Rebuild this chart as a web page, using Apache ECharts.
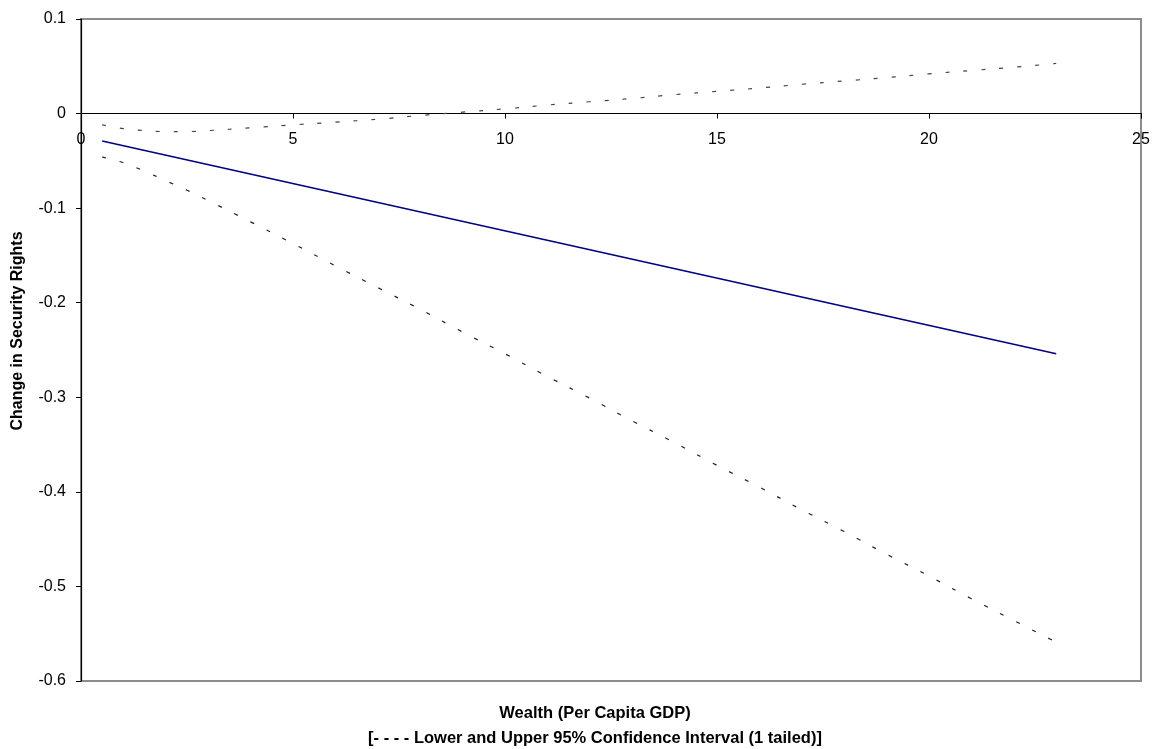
<!DOCTYPE html>
<html>
<head>
<meta charset="utf-8">
<script src="https://cdn.jsdelivr.net/npm/echarts@6/dist/echarts.min.js"></script>
<style>
html,body{margin:0;padding:0;background:#fff;}
#chart{width:1159px;height:749px;}
</style>
</head>
<body>
<div id="chart"></div>
<script>
// Wealth (per capita GDP) values
const estX = [0.5, 23];
const estY = [-0.029, -0.254];

const ciX = [0.5, 1, 1.5, 2, 2.5, 3, 4, 5, 6, 7, 8, 9, 10, 11, 12, 13, 14, 15, 16, 17, 18, 19, 20, 21, 22, 23];
const upperCI = [-0.012, -0.016, -0.018, -0.019, -0.019, -0.018, -0.015, -0.012, -0.009, -0.006, -0.002, 0.0015, 0.005, 0.009, 0.0125, 0.016, 0.020, 0.0235, 0.027, 0.031, 0.0345, 0.038, 0.042, 0.0455, 0.049, 0.053];
const lowerCI = [-0.046, -0.052, -0.061, -0.071, -0.081, -0.092, -0.1145, -0.1375, -0.161, -0.184, -0.207, -0.231, -0.254, -0.278, -0.301, -0.325, -0.348, -0.372, -0.395, -0.419, -0.442, -0.466, -0.489, -0.513, -0.536, -0.559];

const xTitle = 'Wealth (Per Capita GDP)';
const xSubTitle = '[- - - - Lower and Upper 95% Confidence Interval (1 tailed)]';
const yTitle = 'Change in Security Rights';

const zip = (a, b) => a.map((v, i) => [v, b[i]]);
const FONT = '"Liberation Sans", Arial, sans-serif';

const GRID_TOP = 19, GRID_BOTTOM = 68, H = 749;
const Y_MIN = -0.6, Y_MAX = 0.1;
const gridH = H - GRID_TOP - GRID_BOTTOM;
// move the x axis up so it sits on y = 0
const zeroOffset = -gridH * (0 - Y_MIN) / (Y_MAX - Y_MIN);

const chart = echarts.init(document.getElementById('chart'));
chart.setOption({
  animation: false,
  backgroundColor: '#fff',
  grid: {
    left: 81, right: 18, top: GRID_TOP, bottom: GRID_BOTTOM,
    show: true, borderColor: '#8c8c8c', borderWidth: 2, backgroundColor: 'transparent'
  },
  xAxis: {
    type: 'value', min: 0, max: 25, interval: 5,
    position: 'bottom', offset: zeroOffset,
    axisLine: { onZero: false, lineStyle: { color: '#000', width: 1.2 } },
    axisTick: { show: true, length: 5, lineStyle: { color: '#000' } },
    axisLabel: { color: '#000', fontFamily: FONT, fontSize: 16, margin: 18 },
    splitLine: { show: false }
  },
  yAxis: {
    type: 'value', min: Y_MIN, max: Y_MAX, interval: 0.1,
    axisLine: { show: true, onZero: false, lineStyle: { color: '#000', width: 1.2 } },
    axisTick: { show: true, length: 5, lineStyle: { color: '#000' } },
    axisLabel: { color: '#000', fontFamily: FONT, fontSize: 16, margin: 15,
      formatter: v => String(Math.round(v * 10) / 10) },
    splitLine: { show: false }
  },
  series: [
    {
      type: 'line', data: zip(estX, estY), symbol: 'none',
      lineStyle: { color: '#000080', width: 1.6 }
    },
    {
      type: 'line', data: zip(ciX, upperCI), symbol: 'none', smooth: true,
      lineStyle: { color: '#444', width: 1.2, type: [4, 14] }
    },
    {
      type: 'line', data: zip(ciX, lowerCI), symbol: 'none', smooth: true,
      lineStyle: { color: '#222', width: 1.2, type: [4, 14] }
    }
  ],
  graphic: [
    { type: 'text', x: 595, y: 713, style: { text: xTitle, font: 'bold 16.5px ' + FONT, fill: '#000', align: 'center', verticalAlign: 'middle' } },
    { type: 'text', x: 595, y: 738, style: { text: xSubTitle, font: 'bold 16.5px ' + FONT, fill: '#000', align: 'center', verticalAlign: 'middle' } },
    { type: 'text', x: 18, y: 331, rotation: Math.PI / 2, style: { text: yTitle, font: 'bold 16px ' + FONT, fill: '#000', align: 'center', verticalAlign: 'middle' } }
  ]
});
</script>
</body>
</html>
